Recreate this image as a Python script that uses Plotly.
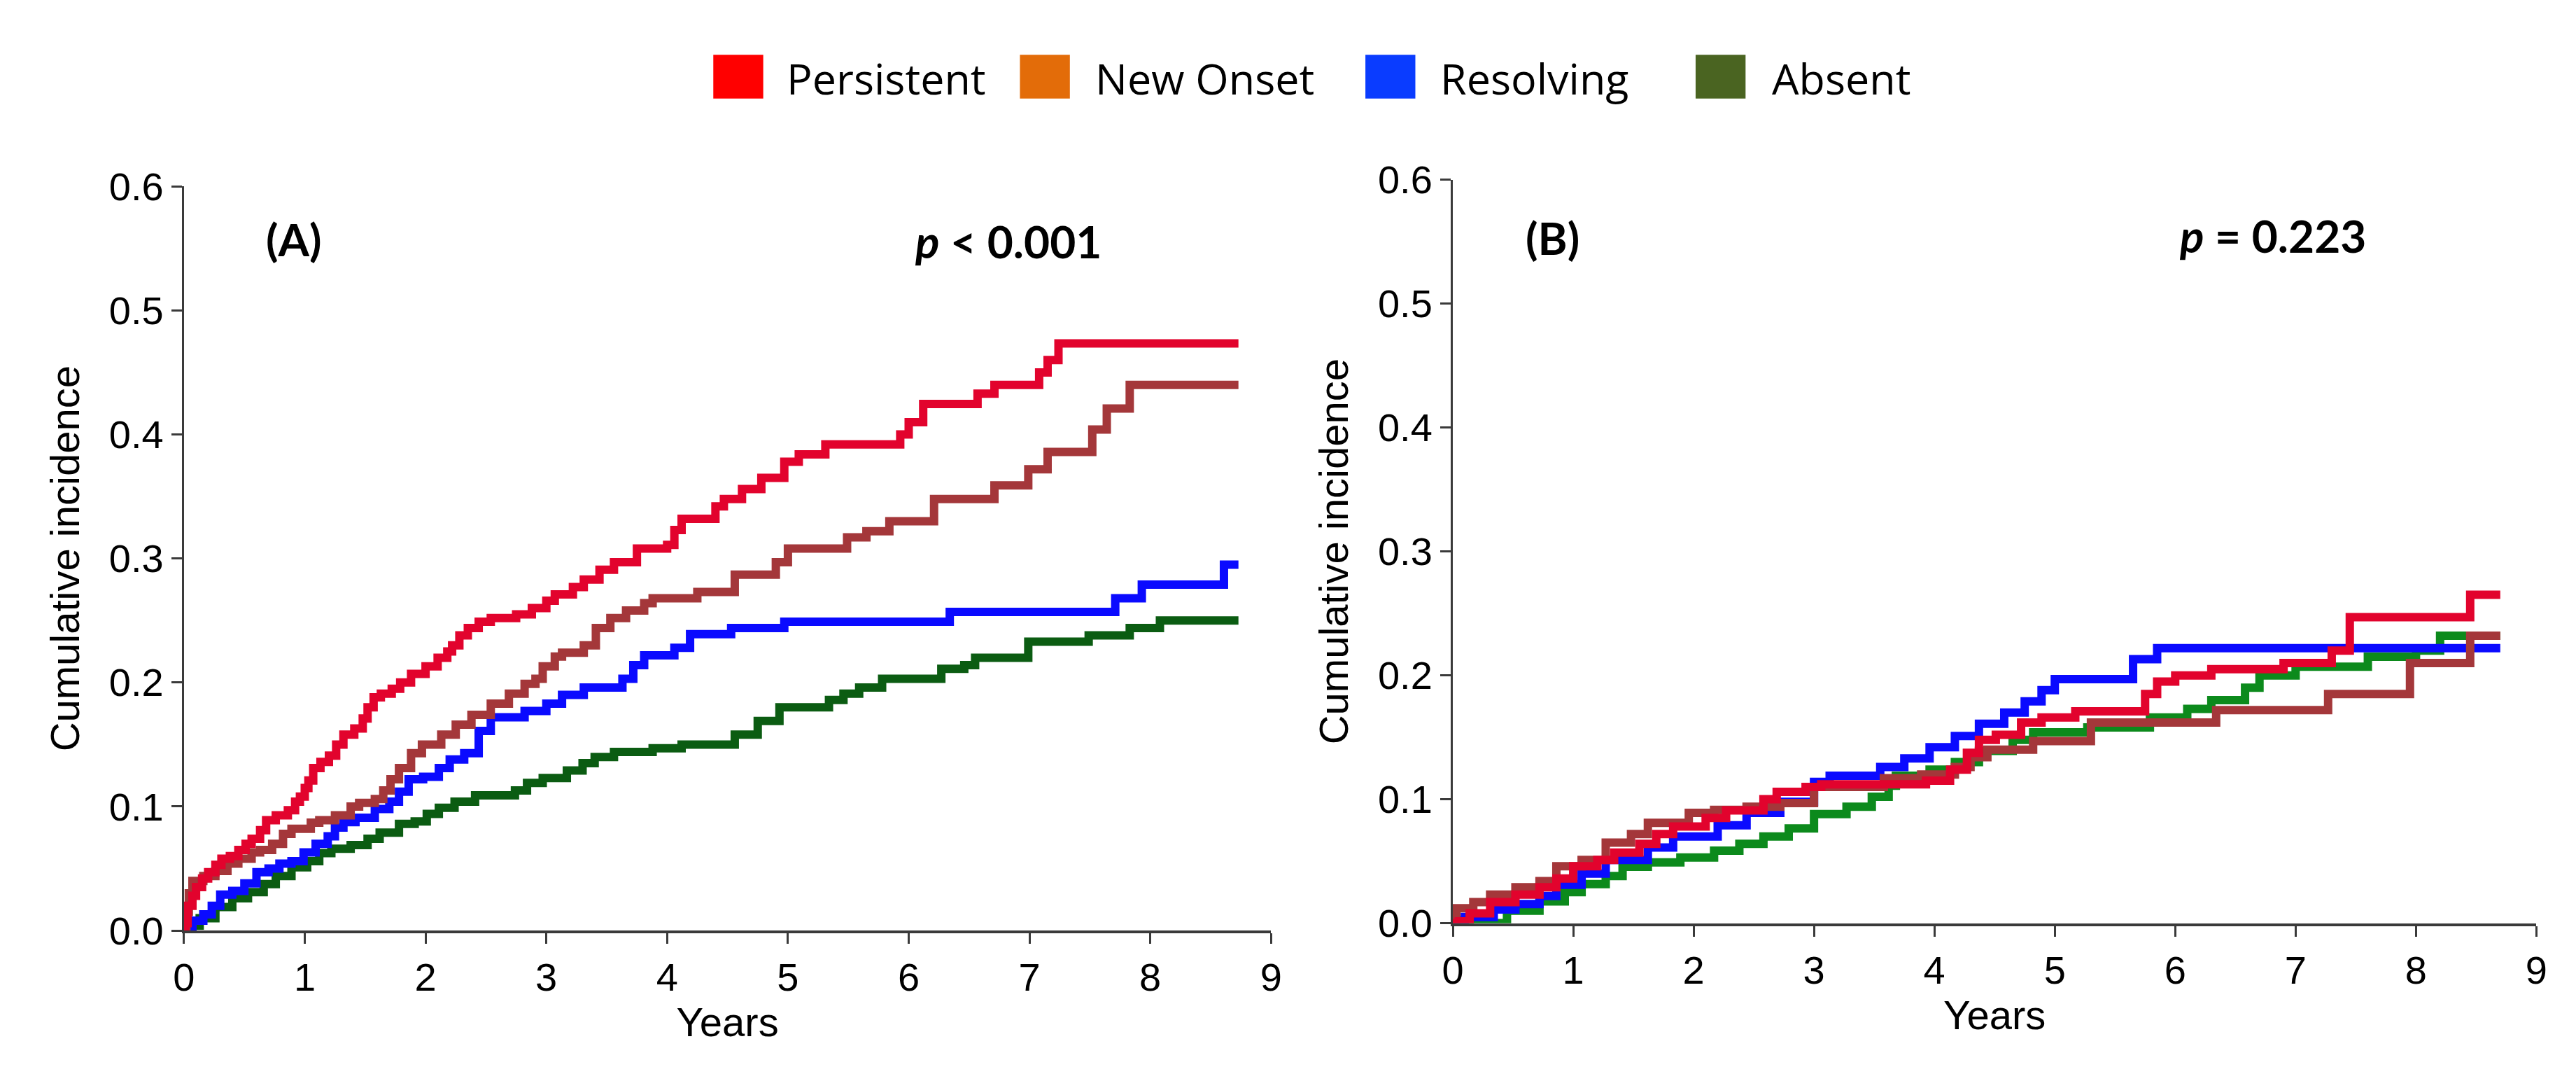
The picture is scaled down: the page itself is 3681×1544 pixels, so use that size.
import plotly.graph_objects as go

W, H = 3681, 1544

# ---------------- data ----------------
series_names = ["Persistent", "New Onset", "Resolving", "Absent"]
legend_colors = ["#FF0000", "#E36C09", "#0A3CFF", "#4A6421"]

# Panel A
a_persistent_t = [0, 0.01, 0.03, 0.07, 0.10, 0.15, 0.20, 0.26, 0.31, 0.38, 0.45, 0.51, 0.56, 0.63, 0.68, 0.76, 0.86, 0.92, 0.96, 1.00, 1.03, 1.07, 1.13, 1.20, 1.26, 1.32, 1.41, 1.48, 1.52, 1.57, 1.63, 1.72, 1.79, 1.88, 2.00, 2.10, 2.18, 2.22, 2.28, 2.35, 2.44, 2.54, 2.75, 2.88, 3.00, 3.07, 3.22, 3.31, 3.44, 3.56, 3.75, 4.00, 4.06, 4.12, 4.40, 4.47, 4.62, 4.78, 4.97, 5.09, 5.31, 5.93, 6.00, 6.12, 6.57, 6.71, 7.08, 7.15, 7.24, 8.73]
a_persistent_v = [0, 0.006, 0.020, 0.028, 0.035, 0.042, 0.047, 0.053, 0.058, 0.060, 0.065, 0.070, 0.074, 0.081, 0.089, 0.093, 0.097, 0.104, 0.108, 0.115, 0.121, 0.131, 0.136, 0.141, 0.150, 0.158, 0.163, 0.171, 0.180, 0.188, 0.191, 0.195, 0.200, 0.207, 0.213, 0.220, 0.225, 0.230, 0.238, 0.244, 0.249, 0.252, 0.255, 0.260, 0.266, 0.271, 0.277, 0.283, 0.291, 0.297, 0.308, 0.311, 0.323, 0.332, 0.342, 0.348, 0.356, 0.365, 0.378, 0.384, 0.392, 0.400, 0.410, 0.4246, 0.433, 0.440, 0.450, 0.460, 0.4735, 0.4735]

a_newonset_t = [0, 0.02, 0.04, 0.07, 0.16, 0.26, 0.36, 0.45, 0.56, 0.63, 0.73, 0.82, 0.89, 1.05, 1.12, 1.25, 1.38, 1.45, 1.58, 1.65, 1.71, 1.78, 1.88, 1.97, 2.13, 2.25, 2.38, 2.54, 2.69, 2.82, 2.91, 2.97, 3.07, 3.13, 3.31, 3.41, 3.53, 3.66, 3.81, 3.88, 4.25, 4.56, 4.90, 5.00, 5.49, 5.65, 5.84, 6.21, 6.71, 6.99, 7.15, 7.52, 7.64, 7.83, 8.73]
a_newonset_v = [0, 0.015, 0.030, 0.040, 0.044, 0.048, 0.054, 0.058, 0.063, 0.065, 0.070, 0.078, 0.082, 0.087, 0.089, 0.093, 0.100, 0.103, 0.106, 0.113, 0.122, 0.131, 0.143, 0.150, 0.158, 0.166, 0.174, 0.183, 0.191, 0.199, 0.203, 0.213, 0.221, 0.224, 0.230, 0.244, 0.252, 0.258, 0.264, 0.268, 0.273, 0.287, 0.297, 0.308, 0.317, 0.322, 0.330, 0.348, 0.359, 0.372, 0.386, 0.404, 0.421, 0.440, 0.440]

a_resolving_t = [0, 0.03, 0.07, 0.16, 0.23, 0.30, 0.40, 0.50, 0.60, 0.70, 0.79, 0.89, 0.99, 1.09, 1.19, 1.25, 1.32, 1.42, 1.58, 1.70, 1.78, 1.86, 1.98, 2.11, 2.20, 2.32, 2.44, 2.54, 2.82, 3.00, 3.13, 3.31, 3.63, 3.72, 3.81, 4.06, 4.19, 4.53, 4.97, 6.34, 7.71, 7.93, 8.61, 8.73]
a_resolving_v = [0, 0.003, 0.008, 0.013, 0.020, 0.029, 0.032, 0.038, 0.047, 0.050, 0.054, 0.056, 0.063, 0.070, 0.076, 0.083, 0.0875, 0.091, 0.098, 0.104, 0.112, 0.122, 0.124, 0.131, 0.138, 0.143, 0.161, 0.172, 0.177, 0.183, 0.190, 0.196, 0.203, 0.214, 0.222, 0.228, 0.239, 0.244, 0.249, 0.257, 0.268, 0.279, 0.295, 0.295]

a_absent_t = [0, 0.02, 0.13, 0.26, 0.40, 0.53, 0.66, 0.76, 0.89, 1.02, 1.12, 1.22, 1.38, 1.52, 1.62, 1.78, 1.91, 2.01, 2.11, 2.24, 2.41, 2.74, 2.84, 2.97, 3.17, 3.30, 3.40, 3.56, 3.88, 4.12, 4.56, 4.75, 4.93, 5.34, 5.46, 5.59, 5.78, 6.27, 6.46, 6.55, 6.99, 7.49, 7.83, 8.08, 8.73]
a_absent_v = [0, 0.004, 0.010, 0.019, 0.026, 0.031, 0.0375, 0.044, 0.051, 0.056, 0.0625, 0.066, 0.069, 0.074, 0.079, 0.086, 0.088, 0.094, 0.099, 0.104, 0.109, 0.113, 0.119, 0.123, 0.129, 0.135, 0.140, 0.144, 0.147, 0.150, 0.158, 0.169, 0.180, 0.186, 0.191, 0.196, 0.203, 0.211, 0.214, 0.220, 0.233, 0.238, 0.244, 0.250, 0.250]

# Panel B
b_persistent_t = [0, 0.05, 0.14, 0.31, 0.52, 0.72, 0.86, 1.00, 1.20, 1.34, 1.55, 1.69, 1.83, 2.10, 2.27, 2.58, 2.69, 2.93, 3.06, 3.93, 4.13, 4.27, 4.37, 4.51, 4.72, 4.89, 5.17, 5.75, 5.85, 6.00, 6.30, 6.90, 7.30, 7.45, 8.45, 8.70]
b_persistent_v = [0, 0.0015, 0.008, 0.017, 0.023, 0.029, 0.036, 0.046, 0.051, 0.057, 0.064, 0.072, 0.078, 0.085, 0.091, 0.100, 0.106, 0.110, 0.112, 0.115, 0.124, 0.1375, 0.148, 0.152, 0.162, 0.166, 0.171, 0.185, 0.195, 0.200, 0.205, 0.210, 0.220, 0.247, 0.265, 0.265]

b_newonset_t = [0, 0.03, 0.17, 0.31, 0.52, 0.72, 0.86, 1.07, 1.27, 1.48, 1.62, 1.96, 2.17, 2.44, 2.72, 3.00, 3.58, 3.89, 4.17, 4.30, 4.44, 4.82, 5.30, 6.34, 7.27, 7.95, 8.45, 8.70]
b_newonset_v = [0, 0.012, 0.017, 0.023, 0.029, 0.034, 0.046, 0.051, 0.065, 0.072, 0.081, 0.089, 0.0915, 0.094, 0.097, 0.110, 0.117, 0.120, 0.126, 0.134, 0.140, 0.147, 0.162, 0.172, 0.185, 0.210, 0.232, 0.232]

b_resolving_t = [0, 0.03, 0.10, 0.34, 0.52, 0.72, 0.86, 1.07, 1.27, 1.62, 1.83, 2.20, 2.44, 2.72, 3.00, 3.13, 3.55, 3.75, 3.96, 4.17, 4.37, 4.58, 4.75, 4.89, 5.00, 5.65, 5.85, 8.70]
b_resolving_v = [0, 0.0025, 0.005, 0.011, 0.0155, 0.022, 0.031, 0.040, 0.051, 0.061, 0.070, 0.079, 0.089, 0.098, 0.114, 0.119, 0.126, 0.133, 0.142, 0.151, 0.161, 0.170, 0.179, 0.188, 0.197, 0.213, 0.222, 0.222]

b_absent_t = [0, 0.45, 0.72, 0.93, 1.07, 1.27, 1.41, 1.62, 1.89, 2.17, 2.38, 2.58, 2.79, 3.00, 3.27, 3.48, 3.62, 3.68, 3.96, 4.17, 4.37, 4.65, 4.82, 5.27, 5.79, 6.10, 6.30, 6.58, 6.70, 7.00, 7.60, 8.00, 8.20, 8.70]
b_absent_v = [0, 0.010, 0.0175, 0.025, 0.0315, 0.038, 0.0455, 0.049, 0.053, 0.0585, 0.064, 0.070, 0.0765, 0.088, 0.094, 0.102, 0.111, 0.119, 0.124, 0.130, 0.139, 0.148, 0.154, 0.158, 0.166, 0.173, 0.180, 0.190, 0.200, 0.207, 0.215, 0.220, 0.232, 0.232]

x_ticks = [0, 1, 2, 3, 4, 5, 6, 7, 8, 9]
y_ticks = [0.0, 0.1, 0.2, 0.3, 0.4, 0.5, 0.6]
p_texts = ["<b><i>p</i> &lt; 0.001</b>", "<b><i>p</i> = 0.223</b>"]
panel_labels = ["<b>(A)</b>", "<b>(B)</b>"]

# ---------------- styling ----------------
line_colors_a = ["#E2032D", "#A4373A", "#0A0AFF", "#0B5C12"]
line_colors_b = ["#E2032D", "#A4373A", "#0A0AFF", "#0C8A1C"]
LW = 12
AX = "#3A3A3A"
TICKFONT = dict(family="Liberation Sans, Arial", size=56, color="black")
TITLEFONT = dict(family="Liberation Sans, Arial", size=58, color="black")


def px_x(p):
    return p / W


def px_y(p):
    return 1 - p / H


fig = go.Figure()

panel_a = [(a_absent_t, a_absent_v, 3), (a_resolving_t, a_resolving_v, 2),
           (a_newonset_t, a_newonset_v, 1), (a_persistent_t, a_persistent_v, 0)]
panel_b = [(b_absent_t, b_absent_v, 3), (b_resolving_t, b_resolving_v, 2),
           (b_newonset_t, b_newonset_v, 1), (b_persistent_t, b_persistent_v, 0)]

for t, v, k in panel_a:
    fig.add_trace(go.Scatter(x=t, y=v, mode="lines", name=series_names[k],
                             line=dict(color=line_colors_a[k], width=LW, shape="hv"),
                             xaxis="x", yaxis="y", showlegend=False))
for t, v, k in panel_b:
    fig.add_trace(go.Scatter(x=t, y=v, mode="lines", name=series_names[k],
                             line=dict(color=line_colors_b[k], width=LW, shape="hv"),
                             xaxis="x2", yaxis="y2", showlegend=False))

common_x = dict(range=[0, 9], tickvals=x_ticks, showline=True, linecolor=AX, linewidth=4,
                ticks="outside", ticklen=15, tickwidth=3, tickcolor=AX, showgrid=False,
                zeroline=False, tickfont=TICKFONT,
                title=dict(text="Years", font=TITLEFONT, standoff=14))
common_y = dict(range=[0, 0.6], tickvals=y_ticks, tickformat=".1f", showline=True,
                linecolor=AX, linewidth=3, ticks="outside", ticklen=15, tickwidth=3,
                tickcolor=AX, showgrid=False, zeroline=False, tickfont=TICKFONT,
                title=dict(text="Cumulative incidence", font=TITLEFONT, standoff=24))

fig.update_layout(
    width=W, height=H,
    margin=dict(l=0, r=0, t=0, b=0),
    paper_bgcolor="white", plot_bgcolor="white",
    showlegend=False,
    xaxis=dict(domain=[px_x(241), px_x(1808)], anchor="y", **common_x),
    yaxis=dict(domain=[px_y(1345), px_y(237)], anchor="x", **common_y),
    xaxis2=dict(domain=[px_x(2070), px_x(3632)], anchor="y2", **common_x),
    yaxis2=dict(domain=[px_y(1334), px_y(227)], anchor="x2", **common_y),
)

LABELFONT = dict(family="Lato, Open Sans", size=64, color="black")
fig.add_annotation(x=0.913, y=0.5577, xref="x", yref="y", text=panel_labels[0],
                   showarrow=False, font=LABELFONT, xanchor="center", yanchor="middle")
fig.add_annotation(x=6.82, y=0.556, xref="x", yref="y", text=p_texts[0],
                   showarrow=False, font=LABELFONT, xanchor="center", yanchor="middle")
fig.add_annotation(x=0.83, y=0.553, xref="x2", yref="y2", text=panel_labels[1],
                   showarrow=False, font=LABELFONT, xanchor="center", yanchor="middle")
fig.add_annotation(x=6.81, y=0.555, xref="x2", yref="y2", text=p_texts[1],
                   showarrow=False, font=LABELFONT, xanchor="center", yanchor="middle")

# ---------------- legend (manual, top centre) ----------------
box_left = [1004, 1446, 1944, 2420]
text_left = [1108, 1552, 2050, 2528]
BOX_W, BOX_T, BOX_B = 72, 41, 106
for i in range(4):
    fig.add_shape(type="rect", xref="paper", yref="paper",
                  x0=px_x(box_left[i]), x1=px_x(box_left[i] + BOX_W),
                  y0=px_y(BOX_B), y1=px_y(BOX_T),
                  fillcolor=legend_colors[i], line=dict(width=0))
    fig.add_annotation(x=px_x(text_left[i]), y=px_y((BOX_T + BOX_B) / 2 + 2),
                       xref="paper", yref="paper", text=series_names[i],
                       showarrow=False, xanchor="left", yanchor="middle",
                       font=dict(family="Open Sans, Noto Sans", size=61, color="black"))

fig.write_html("out.html")
